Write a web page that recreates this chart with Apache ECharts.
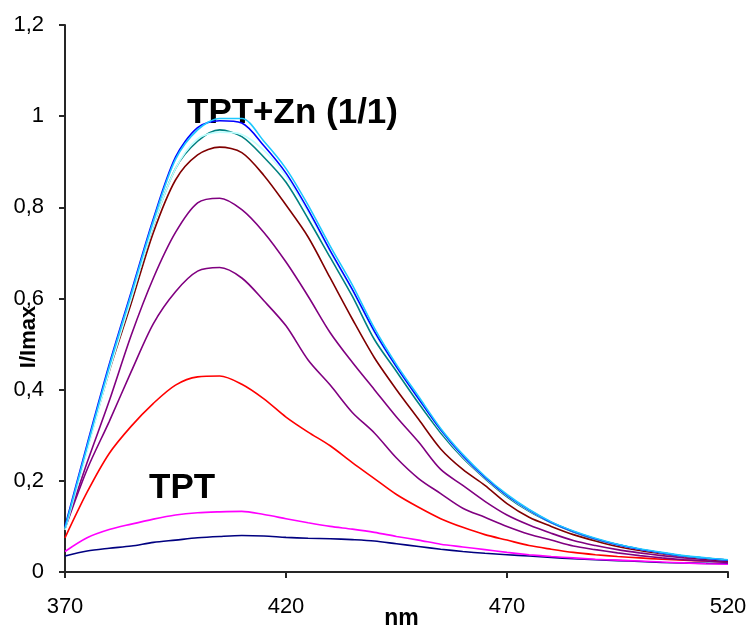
<!DOCTYPE html>
<html>
<head>
<meta charset="utf-8">
<script src="https://cdn.jsdelivr.net/npm/echarts@6/dist/echarts.min.js"></script>
<style>
html,body{margin:0;padding:0;background:#fff;overflow:hidden;}
#chart{width:755px;height:629px;}
</style>
</head>
<body>
<div id="chart"></div>
<script>
// wavelengths (nm)
var wavelengths = [370,375,380,385,390,395,400,405,410,415,420,425,430,435,440,445,450,455,460,465,470,475,480,485,490,495,500,505,510,515,520];

// series values (I/Imax)
var skyblue   = [0.096,0.275,0.450,0.610,0.770,0.905,0.970,0.995,0.995,0.945,0.885,0.805,0.715,0.630,0.535,0.455,0.385,0.315,0.258,0.210,0.170,0.137,0.110,0.090,0.074,0.061,0.051,0.043,0.036,0.031,0.027];
var blue      = [0.100,0.280,0.455,0.615,0.775,0.910,0.975,0.990,0.985,0.935,0.875,0.795,0.705,0.620,0.528,0.450,0.380,0.312,0.255,0.208,0.168,0.136,0.109,0.089,0.073,0.060,0.050,0.042,0.035,0.030,0.026];
var palecyan  = [0.092,0.265,0.440,0.600,0.760,0.885,0.950,0.965,0.960,0.925,0.868,0.790,0.702,0.617,0.525,0.448,0.378,0.310,0.253,0.207,0.167,0.135,0.109,0.089,0.073,0.060,0.050,0.042,0.035,0.030,0.026];
var teal      = [0.095,0.270,0.445,0.600,0.760,0.885,0.945,0.970,0.955,0.910,0.855,0.775,0.690,0.605,0.510,0.440,0.370,0.305,0.250,0.205,0.165,0.133,0.108,0.088,0.072,0.060,0.050,0.042,0.035,0.030,0.026];
var darkred   = [0.096,0.270,0.440,0.590,0.745,0.860,0.915,0.932,0.920,0.870,0.805,0.735,0.645,0.555,0.470,0.400,0.335,0.270,0.225,0.190,0.150,0.120,0.100,0.082,0.068,0.056,0.047,0.040,0.034,0.029,0.025];
var purple1   = [0.096,0.240,0.375,0.520,0.645,0.745,0.810,0.820,0.795,0.745,0.680,0.605,0.525,0.460,0.400,0.340,0.285,0.225,0.190,0.155,0.125,0.103,0.085,0.069,0.058,0.049,0.042,0.036,0.031,0.027,0.023];
var purple2   = [0.095,0.225,0.330,0.440,0.545,0.615,0.660,0.668,0.645,0.595,0.540,0.465,0.410,0.350,0.305,0.250,0.205,0.172,0.140,0.120,0.100,0.083,0.070,0.057,0.049,0.042,0.036,0.031,0.027,0.024,0.021];
var red       = [0.075,0.175,0.260,0.320,0.370,0.410,0.428,0.430,0.412,0.380,0.340,0.307,0.277,0.240,0.205,0.170,0.142,0.117,0.098,0.082,0.070,0.058,0.050,0.043,0.038,0.034,0.031,0.028,0.026,0.024,0.022];
var magenta   = [0.045,0.075,0.093,0.105,0.116,0.125,0.130,0.132,0.133,0.126,0.117,0.108,0.100,0.094,0.087,0.078,0.070,0.061,0.055,0.049,0.043,0.038,0.034,0.031,0.028,0.026,0.024,0.022,0.020,0.018,0.017];
var navy      = [0.035,0.046,0.052,0.057,0.065,0.070,0.075,0.078,0.080,0.079,0.076,0.074,0.073,0.071,0.068,0.062,0.056,0.050,0.045,0.041,0.038,0.035,0.032,0.029,0.027,0.025,0.023,0.021,0.020,0.019,0.018];

// tick labels
var yTickLabels = {"0":"0","0.2":"0,2","0.4":"0,4","0.6":"0,6","0.8":"0,8","1":"1","1.2":"1,2"};

// annotations
var labelTop = "TPT+Zn (1/1)";
var labelBottom = "TPT";
var xName = "nm";
var yName = "I/Imax";

var seriesDefs = [
  {name:"navy", data:navy, color:"#000080"},
  {name:"magenta", data:magenta, color:"#FF00FF"},
  {name:"red", data:red, color:"#FF0000"},
  {name:"purple2", data:purple2, color:"#800080"},
  {name:"purple1", data:purple1, color:"#800080"},
  {name:"darkred", data:darkred, color:"#800000"},
  {name:"teal", data:teal, color:"#008080"},
  {name:"palecyan", data:palecyan, color:"#BFFFFF"},
  {name:"blue", data:blue, color:"#0000FF"},
  {name:"skyblue", data:skyblue, color:"#1EC8FF"}
];

function pairs(arr){
  return wavelengths.map(function(w,i){return [w, arr[i]];});
}

var chart = echarts.init(document.getElementById('chart'), null, {renderer:'canvas'});
var font = "'Liberation Sans', Arial, sans-serif";
var axisColor = "#262626";

chart.setOption({
  animation:false,
  backgroundColor:"#ffffff",
  grid:{left:65, right:27, top:25, bottom:57, containLabel:false, outerBoundsMode:'none'},
  xAxis:{
    type:'value', min:370, max:520, interval:50,
    name:xName, nameLocation:'middle', nameGap:35, nameMoveOverlap:false,
    nameTextStyle:{fontFamily:font, fontWeight:'bold', fontSize:23, color:'#000', padding:[0,0,0,10]},
    axisLine:{show:true, onZero:false, lineStyle:{color:axisColor, width:2}},
    axisTick:{show:true, inside:false, length:6, lineStyle:{color:axisColor, width:2}},
    axisLabel:{fontFamily:font, fontSize:22, color:'#000', margin:24},
    splitLine:{show:false}
  },
  yAxis:{
    type:'value', min:0, max:1.2, interval:0.2,
    axisLine:{show:true, onZero:false, lineStyle:{color:axisColor, width:2}},
    axisTick:{show:true, inside:false, length:6, lineStyle:{color:axisColor, width:2}},
    axisLabel:{fontFamily:font, fontSize:22, color:'#000', margin:21,
      formatter:function(v){var k=String(Math.round(v*10)/10); return yTickLabels[k]!==undefined?yTickLabels[k]:k;}},
    splitLine:{show:false}
  },
  series: seriesDefs.map(function(s){
    return {
      name:s.name, type:'line', data:pairs(s.data), showSymbol:false, symbol:'none',
      smooth:0.3, lineStyle:{color:s.color, width:1.6}, itemStyle:{color:s.color}
    };
  }),
  graphic:[
    {type:'text', left:187, top:96, style:{text:labelTop, font:"bold 35px "+font, fill:'#000'}},
    {type:'text', left:149, top:471, style:{text:labelBottom, font:"bold 35px "+font, fill:'#000'}},
    {type:'text', x:29, y:337, rotation:Math.PI/2,
      style:{text:yName, font:"bold 22px "+font, fill:'#000', align:'center', verticalAlign:'middle'}}
  ]
});
</script>
</body>
</html>
